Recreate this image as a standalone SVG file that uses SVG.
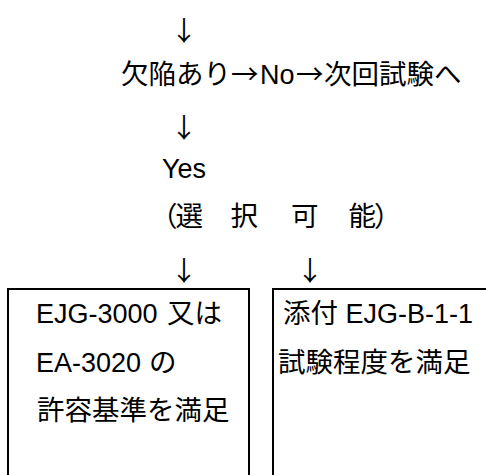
<svg xmlns="http://www.w3.org/2000/svg" width="486" height="475" viewBox="0 0 486 475">
<style>
text{fill:#000}
.j{font-family:"Noto Sans CJK JP","Liberation Sans",sans-serif;font-size:27.5px}
.l{font-family:"Liberation Sans","Noto Sans CJK JP",sans-serif;font-size:27px}
.arr{font-family:"Noto Sans CJK JP",sans-serif;font-size:27px;text-anchor:middle}
.box{fill:none;stroke:#000;stroke-width:2}
</style>
<rect width="486" height="475" fill="#fff"/>
<g id="connectors">
<text class="arr" x="184" y="41">↓</text>
<text class="arr" x="184" y="138">↓</text>
<text class="arr" x="184" y="281">↓</text>
<text class="arr" x="310" y="281">↓</text>
</g>
<g id="node-defect">
<text y="84"><tspan class="j" x="121">欠陥あり</tspan><tspan class="j" x="231">→</tspan><tspan class="l" x="260">No</tspan><tspan class="j" x="296">→</tspan><tspan class="j" x="324">次回試験へ</tspan></text>
</g>
<g id="node-yes">
<text class="l" x="162" y="178">Yes</text>
</g>
<g id="node-select">
<text class="j" x="150 175.5 203 230.5 260 291 320 348.5 374" y="226">（選　択　可　能）</text>
</g>
<g id="node-left">
<path class="box" d="M8,480 V289 H249 V480"/>
<text y="323"><tspan class="l" x="36">EJG-3000 </tspan><tspan class="j" x="167">又は</tspan></text>
<text y="372"><tspan class="l" x="36">EA-3020 </tspan><tspan class="j" x="149">の</tspan></text>
<text class="j" x="37" y="420">許容基準を満足</text>
</g>
<g id="node-right">
<path class="box" d="M273,480 V289 H490"/>
<text x="283" y="323"><tspan class="j">添付</tspan><tspan class="l" font-size="28"> EJG-B-1-1</tspan></text>
<text class="j" x="278" y="372">試験程度を満足</text>
</g>
</svg>
